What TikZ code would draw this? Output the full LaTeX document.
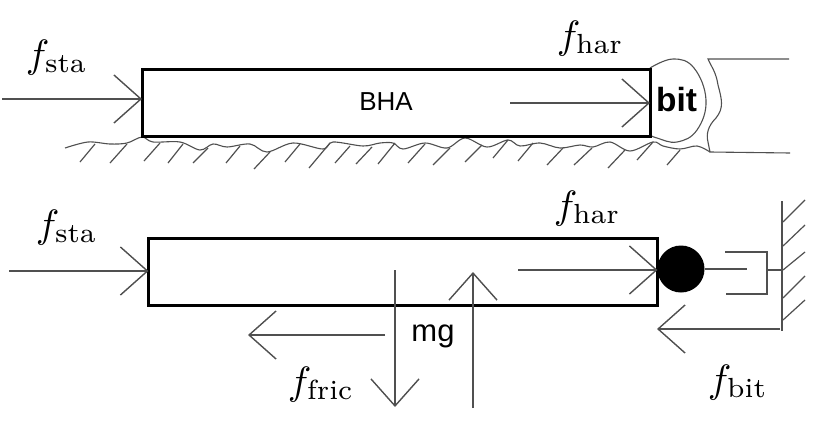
\documentclass[tikz,border=0pt]{standalone}
\usepackage{fontspec}
\setsansfont{Liberation Sans}
\usetikzlibrary{arrows.meta}
\definecolor{ink}{HTML}{505050}
\tikzset{
  thin line/.style={draw=ink,line width=1.4pt},
  force/.style={thin line,-{Straight Barb[length=27pt,width=48pt,line width=1.4pt]}},
  bodybox/.style={draw=black,line width=3pt,fill=none,inner sep=0pt,outer sep=0pt},
  mathlabel/.style={anchor=base west,inner sep=0pt,scale=3.95},
  sanslabel/.style={inner sep=0pt,font=\sffamily,text=black},
  hatchline/.style={draw=ink,line width=1.2pt},
  curve/.style={draw=ink,line width=1.1pt,fill=none}
}
\begin{document}
\begin{tikzpicture}[x=1pt,y=-1pt]
\useasboundingbox[fill=white] (0,0) rectangle (824,423);
% upper sketch: ground
\draw[curve] plot[smooth,tension=.55] coordinates {(65,148)(88,142)(110,144)(127,143)(142,137)(153,142)(180,142)(200,150)(213,144)(227,147)(250,144)(267,152)(293,143)(323,149)(333,142)(363,146)(380,143)(393,143)(403,149)(425,143)(447,148)(465,138)(487,147)(508,140)(520,146)(540,143)(560,148)(580,145)(593,147)(610,142)(630,151)(653,142)(663,146)(680,149)(697,146)(710,152)};
\foreach \a/\b/\c/\d in {95/144/80/162,127/144/110/163,160/143/144/161,183/144/168/163,208/148/193/163,240/146/226/163,270/152/254/169,300/144/285/162,330/143/309/168,350/146/335/163,372/147/356/164,395/143/378/164,425/144/408/163,450/148/433/165,482/145/465/162,508/140/493/158,533/143/518/161,563/148/547/165,592/148/574/165,625/150/608/168,653/142/637/160,680/150/667/165}
  \draw[hatchline] (\a,\b) -- (\c,\d);
% upper sketch: bit and hole
\draw[curve] plot[smooth,tension=.7] coordinates {(650,68)(673,59)(694,68)(706,100)(697,130)(677,142)(657,138)(650,135)};
\draw[curve] (789,59) -- (708,59) .. controls (712,68) and (716,72) .. (718,85) .. controls (722,100) and (724,108) .. (716,118) .. controls (708,126) and (706,134) .. (708,142) -- (710,152) -- (790,153);
% upper sketch: body
\node[bodybox,minimum width=508pt,minimum height=67pt] (bha) at (396,102.5) {};
\coordinate (staA) at (2,99);
\coordinate (harA) at (510,103);
\draw[force] (staA) -- (staA -| bha.west);
\draw[force] (harA) -- (harA -| bha.east);
\node[sanslabel,scale=2.6] (bhaT) at (386,102) {BHA};
\node[sanslabel,scale=3.35] (bitT) at (676.5,100) {\bfseries bit};
\node[mathlabel] (fstaA) at (25,67) {$f_{\mathrm{sta}}$};
\node[mathlabel] (fharA) at (556,48) {$f_{\mathrm{har}}$};
% lower sketch: body
\node[bodybox,minimum width=509pt,minimum height=67pt] (body) at (403,271.5) {};
\node[circle,fill=black,inner sep=0pt,minimum size=47pt] (ball) at (681,269) {};
\coordinate (staB) at (9,271);
\coordinate (harB) at (518,270);
\draw[force] (staB) -- (staB -| body.west);
\draw[force] (harB) -- (harB -| body.east);
% lower sketch: damper and wall
\coordinate (rodEnd) at (747,269);
\coordinate (cupTop) at (725,252);
\coordinate (cupBot) at (726,294);
\coordinate (cupBack) at (767,270);
\coordinate (wallTop) at (782,201);
\coordinate (wallBot) at (782,331);
\draw[thin line,line width=1.1pt] (ball.east) -- (rodEnd);
\draw[thin line,line width=1.1pt] (cupTop) -- (cupBack |- cupTop) -- (cupBack |- cupBot) -- (cupBot);
\draw[thin line,line width=1.1pt] (cupBack) -- (cupBack -| wallTop);
\draw[thin line] (wallTop) -- (wallBot);
\foreach \a/\b/\c/\d in {783/222/805/200,783/246/805/225,783/270/805/252,783/298/805/276,783/320/805/300}
  \draw[hatchline] (\a,\b) -- (\c,\d);
% lower sketch: other forces
\coordinate (bitS) at (780,329);
\coordinate (bitE) at (657,329);
\draw[force] (bitS) -- (bitE);
\coordinate (fricS) at (385,335);
\coordinate (fricE) at (248,335);
\draw[force] (fricS) -- (fricE);
\coordinate (mgS) at (395,270);
\coordinate (mgE) at (395,407);
\draw[force] (mgS) -- (mgE);
\coordinate (upS) at (473,408);
\coordinate (upE) at (473,272);
\draw[force,line width=2pt] (upS) -- (upE);
\node[sanslabel,scale=3.1] (mgT) at (433,336) {mg};
\node[mathlabel] (fstaB) at (35,237) {$f_{\mathrm{sta}}$};
\node[mathlabel] (fharB) at (553,218) {$f_{\mathrm{har}}$};
\node[mathlabel] (ffric) at (287,394) {$f_{\mathrm{fric}}$};
\node[mathlabel] (fbit) at (707,392) {$f_{\mathrm{bit}}$};
\end{tikzpicture}
\end{document}
